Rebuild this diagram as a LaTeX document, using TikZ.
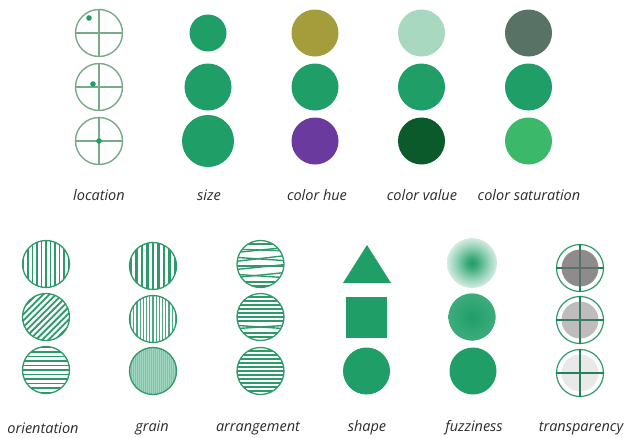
\documentclass[tikz,border=0pt]{standalone}
\usepackage{fontspec}
\setmainfont{Open Sans}
\usepackage{tikz}
\usetikzlibrary{calc}
\usepackage{xcolor}
\definecolor{vargreen}{HTML}{1F9E68}
\definecolor{ringgreen}{HTML}{78A98A}
\definecolor{stripegreen}{HTML}{2E9A6A}
\definecolor{crossgreen}{HTML}{17865A}
\definecolor{hueolive}{HTML}{A59C3C}
\definecolor{huepurple}{HTML}{6A3A9E}
\definecolor{valuelight}{HTML}{A8D9C0}
\definecolor{valuedark}{HTML}{0A5A2C}
\definecolor{satgray}{HTML}{587266}
\definecolor{satbright}{HTML}{3BB86A}
\definecolor{shadegray}{HTML}{6E6A6C}
\definecolor{labelgray}{HTML}{2B2B2B}
\pgfdeclareradialshading{fuzzsoft}{\pgfpoint{0bp}{0bp}}{color(0bp)=(vargreen); color(5bp)=(vargreen!88); color(17bp)=(vargreen!45); color(31bp)=(white); color(50bp)=(white)}
\pgfdeclareradialshading{fuzzedge}{\pgfpoint{0bp}{0bp}}{color(0bp)=(vargreen); color(50bp)=(vargreen!72)}
\tikzset{
  disc/.style={circle,fill=vargreen,inner sep=0pt,minimum size=47},
  ring/.style={circle,draw=ringgreen,line width=1.4pt,inner sep=0pt,minimum size=47},
  crosshair/.style={path picture={
      \draw[ringgreen,line width=1.2pt]
        (path picture bounding box.north) -- (path picture bounding box.south)
        (path picture bounding box.west) -- (path picture bounding box.east);}},
  hatched/.style={circle,draw=stripegreen,line width=1.3pt,inner sep=0pt,minimum size=47},
  % angle, spacing, line width, colour
  stripes/.style n args={4}{path picture={
      \begin{scope}[shift={(path picture bounding box.center)}]
        \foreach \k in {-16,...,16}
          \draw[#4,line width=#3]
            ({\k*#2*cos(#1)-40*sin(#1)},{\k*#2*sin(#1)+40*cos(#1)}) --
            ({\k*#2*cos(#1)+40*sin(#1)},{\k*#2*sin(#1)-40*cos(#1)});
      \end{scope}}},
  arrange/.style={path picture={
      \begin{scope}[shift={(path picture bounding box.center)}]
        \foreach \a/\b in #1
          \draw[stripegreen,line width=1.4pt] (-30,\a) -- (30,\b);
      \end{scope}}},
  varlabel/.style={font=\itshape\fontsize{14.5}{16}\selectfont,text=labelgray,inner sep=1pt},
}
\def\arrA{-20/-20,-15/-13,-11/-17,-7/-3,-2/-9,2/2,6/0,10/14,14/8,18/18,22/22}
\def\arrB{-20/-20,-16/-16,-12/-12,-8/-8,-4/-4,0/0,4/4,8/12,12/8,16/16,20/20}
\def\arrC{-20/-20,-16/-16,-12/-12,-8/-8,-4/-4,0/0,4/4,8/8,12/12,16/16,20/20}

\begin{document}
\begin{tikzpicture}[x=1pt,y=-1pt]
  \useasboundingbox (0,0) rectangle (624,437);
  % upper row
  \foreach \y/\dx/\dy [count=\i] in {33/-10/-15, 87/-6/-3, 141/0/0} {
    \node[ring,crosshair] (loc\i) at (99,\y) {};
    \fill[vargreen] ($(loc\i)+(\dx,\dy)$) circle (2.8);
  }
  \foreach \y/\d [count=\i] in {33/37, 87/47, 141/52}
    \node[disc,minimum size=\d] (size\i) at (208,\y) {};
  \foreach \y/\c [count=\i] in {33/hueolive, 87/vargreen, 141/huepurple}
    \node[disc,fill=\c] (hue\i) at (315,\y) {};
  \foreach \y/\c [count=\i] in {33/valuelight, 87/vargreen, 141/valuedark}
    \node[disc,fill=\c] (val\i) at (421.5,\y) {};
  \foreach \y/\c [count=\i] in {33/satgray, 87/vargreen, 141/satbright}
    \node[disc,fill=\c] (sat\i) at (528.5,\y) {};

  \node[varlabel] (location) at (99,195) {location};
  \node[varlabel] (size) at (209,195) {size};
  \node[varlabel] (hue) at (317,195) {color hue};
  \node[varlabel] (value) at (422,195) {color value};
  \node[varlabel] (saturation) at (529,195) {color saturation};

  % lower row
  \node[hatched,stripes={0}{4.5}{1.8pt}{stripegreen}] (ori1) at (46,264) {};
  \node[hatched,stripes={45}{4.5}{1.8pt}{stripegreen}] (ori2) at (46,317) {};
  \node[hatched,stripes={90}{4.5}{1.8pt}{stripegreen}] (ori3) at (46,370) {};

  \node[hatched,stripes={0}{5.5}{2.3pt}{stripegreen}] (grain1) at (153,266) {};
  \node[hatched,stripes={0}{3.2}{1.3pt}{stripegreen!85}] (grain2) at (153,319) {};
  \node[hatched,fill=vargreen!42,stripes={0}{2}{0.6pt}{stripegreen!60}] (grain3) at (153,371) {};

  \node[hatched,arrange=\arrA] (arr1) at (260.5,264) {};
  \node[hatched,arrange=\arrB] (arr2) at (260.5,317) {};
  \node[hatched,arrange=\arrC] (arr3) at (260.5,371) {};

  \fill[vargreen] (367,245) -- (391,283) -- (343,283) -- cycle;
  \node[disc,rectangle,minimum size=41] (shape2) at (366.5,317) {};
  \node[disc] (shape3) at (366.5,371) {};

  \node[circle,minimum size=50,inner sep=0pt,shading=fuzzsoft] (fuzz1) at (472,263) {};
  \node[disc,shading=fuzzedge] (fuzz2) at (472,317) {};
  \node[disc] (fuzz3) at (473,371) {};

  \foreach \y/\o [count=\i] in {268/0.78, 320/0.45, 373/0.15} {
    \node[ring,draw=stripegreen,line width=1.2pt] (trans\i) at (580,\y) {};
    \draw[crossgreen,line width=2.4pt] (trans\i.north) -- (trans\i.south)
      (trans\i.west) -- (trans\i.east);
    \fill[shadegray,fill opacity=\o] (trans\i) circle (18.5);
  }

  \node[varlabel] (orientation) at (43,428) {orientation};
  \node[varlabel] (grain) at (152,428) {grain};
  \node[varlabel] (arrangement) at (258,428) {arrangement};
  \node[varlabel] (shape) at (367,428) {shape};
  \node[varlabel] (fuzziness) at (474,428) {fuzziness};
  \node[varlabel] (transparency) at (581,428) {transparency};
\end{tikzpicture}
\end{document}
